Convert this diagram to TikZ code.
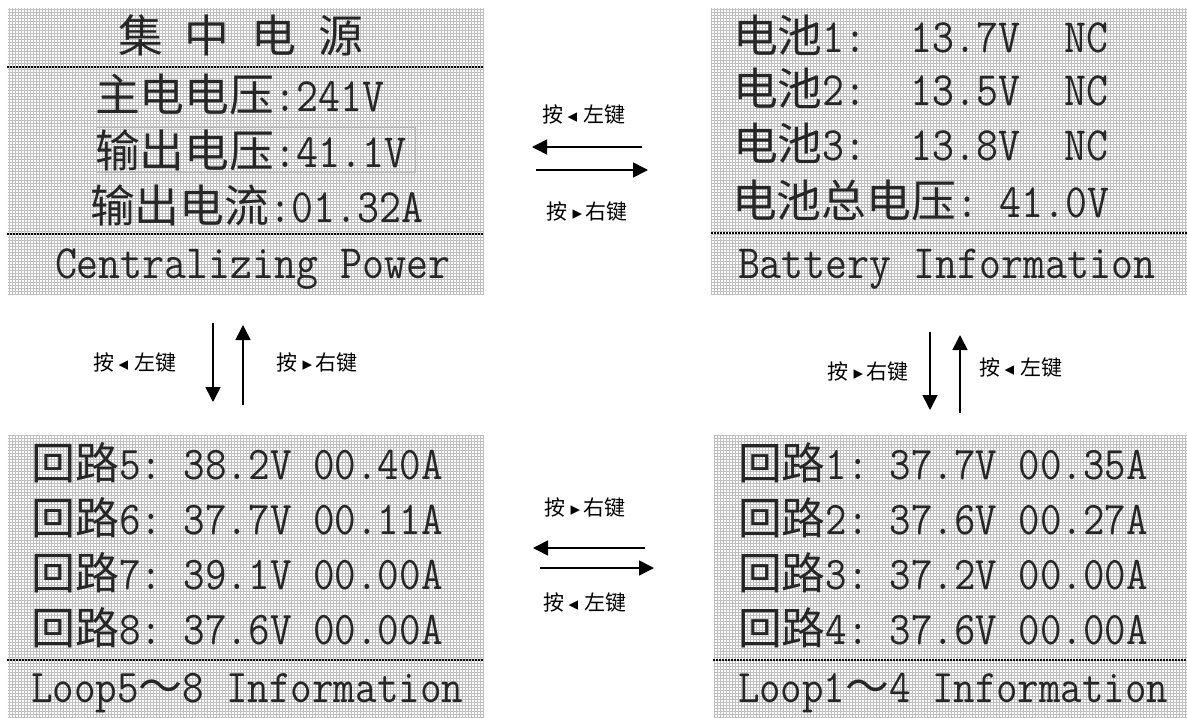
\documentclass[tikz,border=0pt]{standalone}
\usepackage{fontspec}
\usetikzlibrary{arrows.meta}
\newfontfamily\cjkf{Noto Sans CJK SC}
\newfontfamily\symf{DejaVu Sans}
\def\cs{44.8}\def\as{42.67}
\newcommand\C[1]{{\cjkf\fontsize{\cs}{\cs}\selectfont #1}}
\newcommand\A[1]{\scalebox{1}[1.12]{\ttfamily\fontsize{\as}{\as}\selectfont #1}}
\newcommand\keyleft{按\hspace{4pt}{\symf\fontsize{19}{19}\selectfont ◂}\hspace{6pt}左键}
\newcommand\keyright{按\hspace{5pt}{\symf\fontsize{19}{19}\selectfont ▸}\hspace{3pt}右键}
\tikzset{
  gridln/.style={gray!50, line width=1pt, step=3pt},
  sepline/.style={line width=2.6pt, dash pattern=on 2pt off 1pt, black},
  lcd/.style={anchor=base west, inner sep=0pt, outer sep=0pt, text=black!85},
  keylbl/.style={font=\cjkf\fontsize{21}{24}\selectfont, inner sep=0pt},
  arr/.style={line width=1.6pt, -{Triangle[length=15pt,width=15pt]}},
}
\begin{document}
\begin{tikzpicture}[x=1pt,y=-1pt]
\useasboundingbox[fill=white] (0,0) rectangle (1187,718);
% LCD grids
\begin{scope}[shift={(0.5,0.5)}]
\foreach \xa/\ya/\xb/\yb in {7/7/483/294, 711/7/1187/294, 7/435/483/718, 713/435/1187/718}
  \draw[gridln] (\xa,\ya) grid (\xb,\yb);
\end{scope}
% separators
\draw[sepline] (7,67) -- (483,67);
\draw[sepline] (7,234) -- (483,234);
\draw[sepline] (711,233) -- (1187,233);
\draw[sepline] (7,660) -- (483,660);
\draw[sepline] (713,660) -- (1187,660);
% top-left panel
\def\cs{44.8}\def\as{42.67}
\node[lcd] (tlT) at (118,52) {\C{集}\A{~}\C{中}\A{~}\C{电}\A{~}\C{源}};
\node[lcd] (tl1) at (95,111) {\C{主电电压}\A{:241V}};
\draw[gray!55, line width=0.8pt] (96,127) rectangle (415,172);
\node[lcd] (tl2) at (95,167) {\C{输出电压}\A{:41.1V}};
\node[lcd] (tl3) at (90,222) {\C{输出电流}\A{:01.32A}};
\node[lcd] (tlF) at (55,278) {\A{Centralizing Power}};
% top-right panel
\node[lcd] (tr1) at (733,52) {\C{电池}\A{1:~~13.7V~~NC}};
\node[lcd] (tr2) at (733,105) {\C{电池}\A{2:~~13.5V~~NC}};
\node[lcd] (tr3) at (733,160) {\C{电池}\A{3:~~13.8V~~NC}};
\node[lcd] (tr4) at (732,217) {\C{电池总电压}\A{:~41.0V}};
\node[lcd] (trF) at (738,278) {\A{Battery Information}};
% bottom-left panel
\def\cs{44}\def\as{41.9}
\node[lcd] (bl1) at (31,479) {\C{回路}\A{5:~38.2V~00.40A}};
\node[lcd] (bl2) at (31,534) {\C{回路}\A{6:~37.7V~00.11A}};
\node[lcd] (bl3) at (31,589) {\C{回路}\A{7:~39.1V~00.00A}};
\node[lcd] (bl4) at (31,644) {\C{回路}\A{8:~37.6V~00.00A}};
\node[lcd] (blF) at (31,702) {\A{Loop5}\C{～}\A{8~Information}};
% bottom-right panel
\def\cs{43.8}\def\as{41.7}
\node[lcd] (br1) at (738,479) {\C{回路}\A{1:~37.7V~00.35A}};
\node[lcd] (br2) at (738,534) {\C{回路}\A{2:~37.6V~00.27A}};
\node[lcd] (br3) at (738,589) {\C{回路}\A{3:~37.2V~00.00A}};
\node[lcd] (br4) at (738,644) {\C{回路}\A{4:~37.6V~00.00A}};
\node[lcd] (brF) at (738,702) {\A{Loop1}\C{～}\A{4~Information}};
% key labels
\node[keylbl] (k1) at (584,115) {\keyleft};
\node[keylbl] (k2) at (587,212) {\keyright};
\node[keylbl] (k3) at (135,363) {\keyleft};
\node[keylbl] (k4) at (317,363) {\keyright};
\node[keylbl] (k5) at (868,372) {\keyright};
\node[keylbl] (k6) at (1021,368) {\keyleft};
\node[keylbl] (k7) at (585,508) {\keyright};
\node[keylbl] (k8) at (585,603) {\keyleft};
% arrow end points
\coordinate (a1s) at (642,147); \coordinate (a1e) at (532,147);
\coordinate (a2s) at (536,170); \coordinate (a2e) at (648,170);
\coordinate (a3s) at (213,323); \coordinate (a3e) at (213,402);
\coordinate (a4s) at (243,405); \coordinate (a4e) at (243,325);
\coordinate (a5s) at (930,332); \coordinate (a5e) at (930,410);
\coordinate (a6s) at (960,413); \coordinate (a6e) at (960,335);
\coordinate (a7s) at (645,548); \coordinate (a7e) at (533,548);
\coordinate (a8s) at (540,568); \coordinate (a8e) at (654,568);
\draw[arr] (a1s) -- (a1e);
\draw[arr] (a2s) -- (a2e);
\draw[arr] (a3s) -- (a3e);
\draw[arr] (a4s) -- (a4e);
\draw[arr] (a5s) -- (a5e);
\draw[arr] (a6s) -- (a6e);
\draw[arr] (a7s) -- (a7e);
\draw[arr] (a8s) -- (a8e);
\end{tikzpicture}
\end{document}
